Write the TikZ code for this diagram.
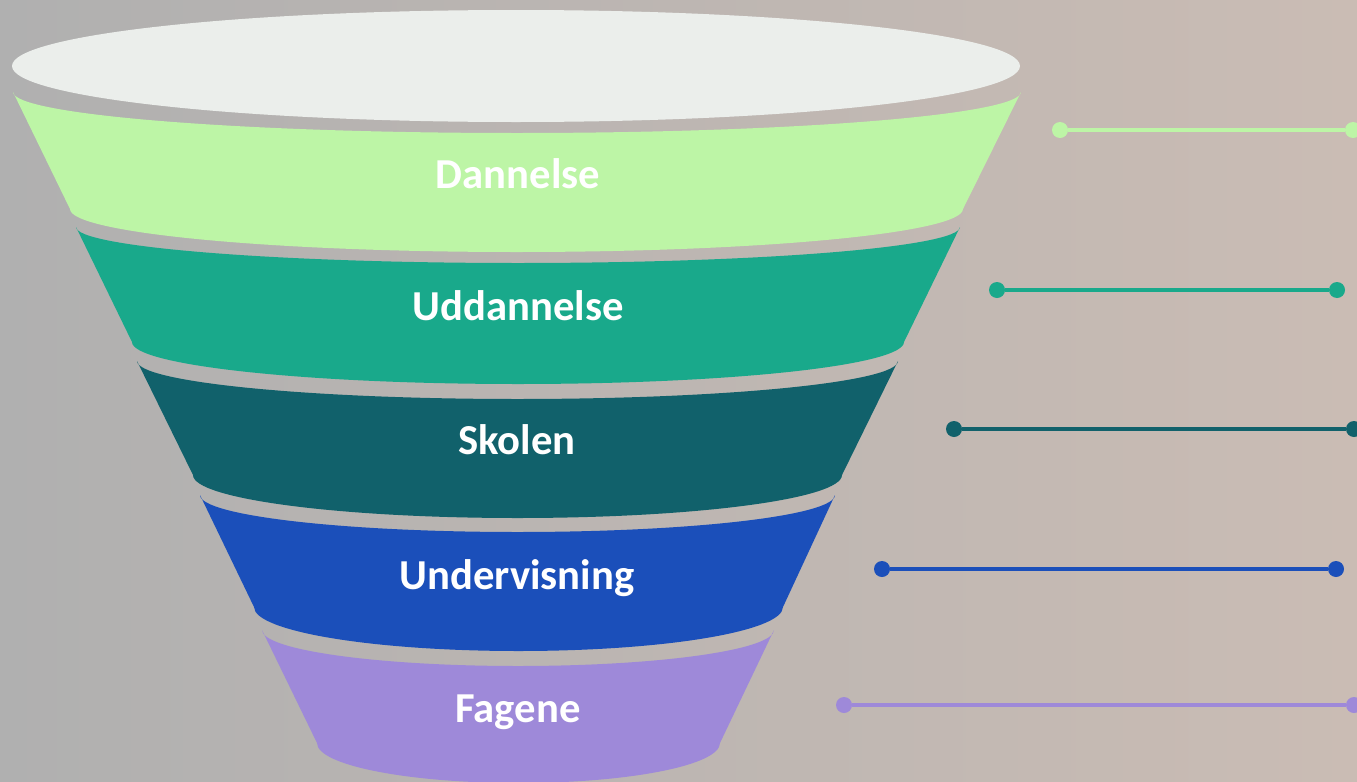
\documentclass[tikz,border=0pt]{standalone}
\usepackage{fontspec}
\setmainfont{Carlito}
\definecolor{bgl}{RGB}{176,176,176}
\definecolor{bgr}{RGB}{202,188,180}
\definecolor{topc}{RGB}{235,238,235}
\definecolor{cA}{RGB}{189,245,166}
\definecolor{cB}{RGB}{25,169,139}
\definecolor{cC}{RGB}{17,97,107}
\definecolor{cD}{RGB}{27,79,186}
\definecolor{cE}{RGB}{158,137,217}
\tikzset{
  lbl/.style={text=white,font=\fontsize{32}{38}\selectfont\bfseries,anchor=base,inner sep=0pt},
  dot/.style={circle,fill=#1,inner sep=0pt,minimum size=12pt},
  conn/.style={draw=#1,line width=2.3pt}
}
\begin{document}
\begin{tikzpicture}[x=0.75pt,y=-0.75pt]
\useasboundingbox (0,0) rectangle (1357,782);
\clip (0,0) rectangle (1357,782);
\shade[left color=bgl,right color=bgr] (0,0) rectangle (1357,782);
% funnel bands
\fill[cA] (13,92) arc[start angle=180,end angle=0,x radius=504,y radius=41]
  -- (963,209) arc[start angle=0,end angle=180,x radius=446.5,y radius=43] -- cycle;
\fill[cB] (76,227) arc[start angle=180,end angle=0,x radius=442,y radius=36]
  -- (904,342) arc[start angle=0,end angle=180,x radius=386,y radius=42] -- cycle;
\fill[cC] (137,361) arc[start angle=180,end angle=0,x radius=380.5,y radius=38]
  -- (842,475) arc[start angle=0,end angle=180,x radius=324.5,y radius=43] -- cycle;
\fill[cD] (200,495) arc[start angle=180,end angle=0,x radius=317.5,y radius=37]
  -- (783,607) arc[start angle=0,end angle=180,x radius=264.5,y radius=44] -- cycle;
\fill[cE] (262,630) arc[start angle=180,end angle=0,x radius=256,y radius=36]
  -- (720,743) arc[start angle=0,end angle=180,x radius=201.5,y radius=40] -- cycle;
% top opening
\fill[topc] (516,66) ellipse[x radius=504,y radius=56];
% labels
\node[lbl] (tA) at (518,188) {Dannelse};
\node[lbl] (tB) at (518,320) {Uddannelse};
\node[lbl] (tC) at (517,454) {Skolen};
\node[lbl] (tD) at (517,589) {Undervisning};
\node[lbl] (tE) at (518,722) {Fagene};
% connectors
\node[dot=cA] (a1) at (1060,130) {};
\node[dot=cA] (a2) at (1353,130) {};
\node[dot=cB] (b1) at (997,290) {};
\node[dot=cB] (b2) at (1337,290) {};
\node[dot=cC] (c1) at (954,429) {};
\node[dot=cC] (c2) at (1354,429) {};
\node[dot=cD] (d1) at (882,569) {};
\node[dot=cD] (d2) at (1336,569) {};
\node[dot=cE] (e1) at (844,705) {};
\node[dot=cE] (e2) at (1354,705) {};
\draw[conn=cA] (a1) -- (a2);
\draw[conn=cB] (b1) -- (b2);
\draw[conn=cC] (c1) -- (c2);
\draw[conn=cD] (d1) -- (d2);
\draw[conn=cE] (e1) -- (e2);
\end{tikzpicture}
\end{document}
